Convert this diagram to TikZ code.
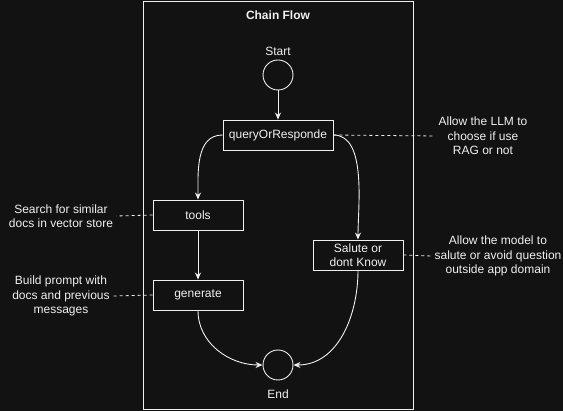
\documentclass[tikz,border=0pt]{standalone}
\usepackage{fontspec}
\setmainfont{Liberation Sans}
\usepackage{xcolor}
\usetikzlibrary{arrows.meta, positioning}

\definecolor{bgdark}{HTML}{121212}
\definecolor{ink}{HTML}{F0F0F0}

\begin{document}
\begin{tikzpicture}[x=1pt, y=-1pt, >={Stealth[length=7pt,width=6pt]},
  font=\fontsize{12}{14.5}\selectfont, color=ink, line width=0.9pt,
  frame/.style = {draw, minimum width=270pt, minimum height=408pt, inner sep=0pt},
  state/.style = {draw, minimum height=30pt, inner sep=0pt, align=center},
  term/.style  = {draw, circle, minimum size=30pt, inner sep=0pt},
  note/.style  = {align=center, inner sep=3pt},
  lbl/.style   = {dashed, dash pattern=on 3pt off 3pt, line width=0.8pt}
]
  %% background and outer box
  \fill[bgdark] (0,0) rectangle (563,411);
  \useasboundingbox (0,0) rectangle (563,411);
  \node[frame] (F) at (278,205) {};
  \node[font=\fontsize{12}{14}\selectfont\bfseries] (title) at (278,15) {Chain Flow};

  %% flow nodes
  \node[term, label={[label distance=0pt]above:Start}] (S) at (278,75) {};
  \node[state, minimum width=110pt] (Q) at (278,135) {queryOrResponde};
  \node[state, minimum width=90pt]  (T) at (198,215) {tools};
  \node[state, minimum width=90pt]  (G) at (198,295) {generate};
  \node[state, minimum width=90pt]  (R) at (358,255) {Salute or\\dont Know};
  \node[term, label={[label distance=6pt]below:End}] (E) at (278,365) {};

  %% side notes
  \node[note] (nQ) at (483,136) {Allow the LLM to\\choose if use\\RAG or not};
  \node[note] (nR) at (498,256) {Allow the model to\\salute or avoid question\\outside app domain};
  \node[note] (nT) at (61,216)  {Search for similar\\docs in vector store};
  \node[note] (nG) at (61,296)  {Build prompt with\\docs and previous\\messages};

  %% edges
  \draw[->] (S) -- (Q);
  \draw[->] (Q.west) to[out=180, in=90] (T.north);
  \draw[->] (Q.east) to[out=0, in=90, looseness=0.8] (R.north);
  \draw[->] (T) -- (G);
  \draw[->] (G.south) to[out=-90, in=180] (E.west);
  \draw[->] (R.south) to[out=-90, in=0] (E.east);

  %% note links
  \draw[lbl] (Q.east) -- (nQ.west);
  \draw[lbl] (R.east) -- (nR.west);
  \draw[lbl] (T.west) -- (nT.east);
  \draw[lbl] (G.west) -- (nG.east);
\end{tikzpicture}
\end{document}
